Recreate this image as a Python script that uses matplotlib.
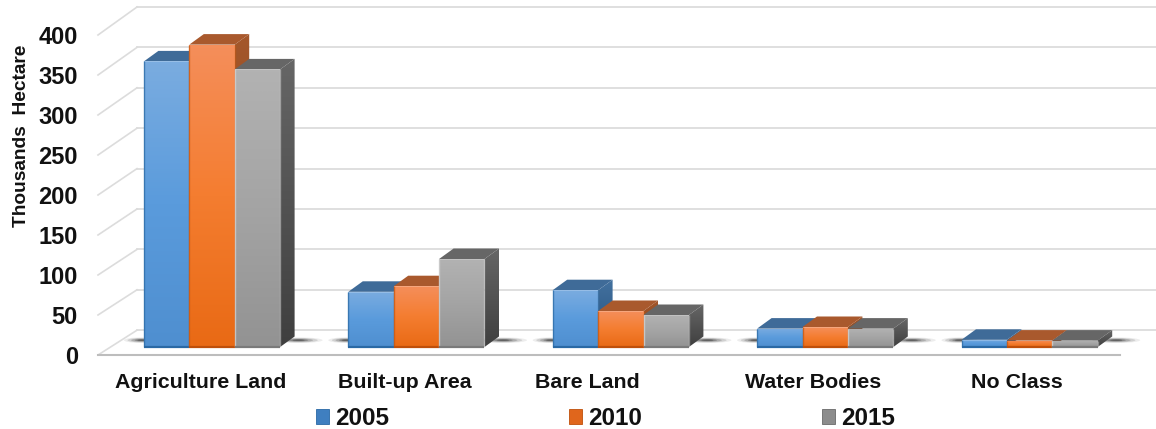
import numpy as np
import matplotlib
matplotlib.use("Agg")
import matplotlib.pyplot as plt
from matplotlib.colors import LinearSegmentedColormap
from matplotlib.patches import Ellipse, Patch, Polygon, Rectangle

plt.rcParams['font.family'] = ['Liberation Sans', 'DejaVu Sans']

categories = ["Agriculture Land", "Built-up Area", "Bare Land", "Water Bodies", "No Class"]
years = ["2005", "2010", "2015"]
values_2005 = [357, 69, 71, 23, 9]
values_2010 = [378, 76, 45, 25, 8]
values_2015 = [347, 110, 40, 23, 8]
y_ticks = [0, 50, 100, 150, 200, 250, 300, 350, 400]

W, H = 1156, 429
PX_PER_CAT = 204.4
PX_PER_UNIT = 0.8
X0_PX, Y0_PX = 212.0, 347.0

fig = plt.figure(figsize=(W / 100, H / 100), dpi=100, facecolor="white")
ax = fig.add_axes([0, 0, 1, 1])
ax.axis("off")


def cat_x(px):
    return (px - X0_PX) / PX_PER_CAT


def val_y(py):
    return (Y0_PX - py) / PX_PER_UNIT


xlim = (cat_x(0), cat_x(W))
ylim = (val_y(H), val_y(0))

BAR_W = 45.4 / PX_PER_CAT
DEPTH_X = 14.5 / PX_PER_CAT
DEPTH_Y = 10.5 / PX_PER_UNIT

# Offsets of the front floor edge and the back wall from the bars' base.
FRONT_Y = -10
BACK_Y = 21
FRONT_LEFT, BACK_LEFT = cat_x(98), cat_x(137)
FRONT_RIGHT, BACK_RIGHT = cat_x(1120), cat_x(1156)
GRID = "#dcdcdc"

for v in y_ticks:
    back = v * 1.01 + BACK_Y
    ax.plot([BACK_LEFT, BACK_RIGHT], [back, back], color=GRID, lw=1.3, zorder=1)
    ax.plot([FRONT_LEFT, BACK_LEFT], [v + FRONT_Y, back], color=GRID, lw=1.2, zorder=1)
    ax.text(cat_x(78), v + FRONT_Y - 2.5, str(v), ha="right", va="center",
            fontsize=17, fontweight="bold", color="#111111")
ax.plot([FRONT_LEFT, FRONT_RIGHT], [FRONT_Y, FRONT_Y], color="#bdbdbd", lw=1.5, zorder=1)


def gradient(poly, colors, extent, z):
    cmap = LinearSegmentedColormap.from_list("face", colors)
    im = ax.imshow(np.linspace(1, 0, 64).reshape(-1, 1), cmap=cmap, vmin=0, vmax=1,
                   extent=extent, aspect="auto", origin="lower",
                   interpolation="bilinear", zorder=z)
    patch = Polygon(poly, closed=True, transform=ax.transData, fc="none", ec="none")
    ax.add_patch(patch)
    im.set_clip_path(patch)


front_colors = [("#7aace0", "#5a9bdc", "#4f8fd0"),
                ("#f58e5a", "#f47d30", "#e96a15"),
                ("#b2b2b2", "#a4a4a4", "#939393")]
edge_colors = ["#2f6ea8", "#c85a14", "#d0d0d0"]
base_colors = ["#2a69a5", "#bf4f0a", "#7a7a7a"]
top_colors = ["#3f6b98", "#a9592d", "#666666"]
side_colors = [("#43719f", "#24507d"), ("#a4572b", "#7d3d16"), ("#666666", "#3f3f3f")]


def shadow(cx, half_w, z=2):
    # Soft lens-shaped contact shadow on the floor
    for f, a in zip([1.0, 0.8, 0.6, 0.4, 0.25], [0.08, 0.14, 0.2, 0.28, 0.4]):
        ax.add_patch(Ellipse((cx, 8.5), 2 * half_w * f, 7 * f, fc="#222222",
                             ec="none", alpha=a, zorder=z))


series = [values_2005, values_2010, values_2015]
z = 3
for c in range(len(categories)):
    left_edge = c - 1.5 * BAR_W
    right_edge = c + 1.5 * BAR_W + DEPTH_X
    shadow(left_edge - 2 / PX_PER_CAT, 18 / PX_PER_CAT)
    shadow(right_edge + 4 / PX_PER_CAT, 24 / PX_PER_CAT)
    for s, vals in enumerate(series):
        v = vals[c]
        x0 = c + (s - 1.5) * BAR_W
        x1 = x0 + BAR_W
        # top face
        ax.add_patch(Polygon([(x0, v), (x0 + DEPTH_X, v + DEPTH_Y),
                              (x1 + DEPTH_X, v + DEPTH_Y), (x1, v)],
                             closed=True, fc=top_colors[s], ec="none", zorder=z))
        # right side face
        gradient([(x1, 0), (x1 + DEPTH_X, DEPTH_Y), (x1 + DEPTH_X, v + DEPTH_Y), (x1, v)],
                 side_colors[s], (x1, x1 + DEPTH_X, 0, v + DEPTH_Y), z)
        # front face
        gradient([(x0, 0), (x1, 0), (x1, v), (x0, v)], front_colors[s], (x0, x1, 0, v), z + 0.1)
        ax.add_patch(Rectangle((x0, v - 1), BAR_W, 1, fc="white", ec="none",
                               alpha=0.22, zorder=z + 0.2))
        ax.plot([x0, x0], [0, v], color=edge_colors[s], lw=1.0, alpha=0.8,
                zorder=z + 0.2, solid_capstyle="butt")
        ax.plot([x1, x1], [0, v], color=edge_colors[s], lw=1.0, alpha=0.5,
                zorder=z + 0.2, solid_capstyle="butt")
        ax.plot([x0, x1], [0.6, 0.6], color=base_colors[s], lw=1.6,
                zorder=z + 0.2, solid_capstyle="butt")
        z += 1

label_px = [201, 405, 587, 813, 1017]
for name, px in zip(categories, label_px):
    ax.text(cat_x(px), val_y(382.5), name, ha="center", va="center",
            fontsize=15.4, fontweight="bold", color="#111111")

ax.text(cat_x(21), val_y(136), "Thousands  Hectare", rotation=90, ha="center", va="center",
        fontsize=13.8, fontweight="bold", color="#111111")

legend_colors = ["#3f7fc0", "#e0661c", "#8c8c8c"]
handles = [Patch(fc=col, ec=e, lw=0.6, label=y)
           for col, e, y in zip(legend_colors, ["#2a69a5", "#bf4f0a", "#6a6a6a"], years)]
leg = ax.legend(handles=handles, ncol=3, frameon=False, loc="center left",
                bbox_to_anchor=(316 / W, 1 - 418.5 / H), borderaxespad=0, borderpad=0,
                prop={"size": 17.5, "weight": "bold"},
                handlelength=0.54, handleheight=0.54, handletextpad=0.25, columnspacing=7.4)
for t in leg.get_texts():
    t.set_color("#111111")

ax.set_xlim(xlim)
ax.set_ylim(ylim)
fig.savefig("out.png", dpi=100)
